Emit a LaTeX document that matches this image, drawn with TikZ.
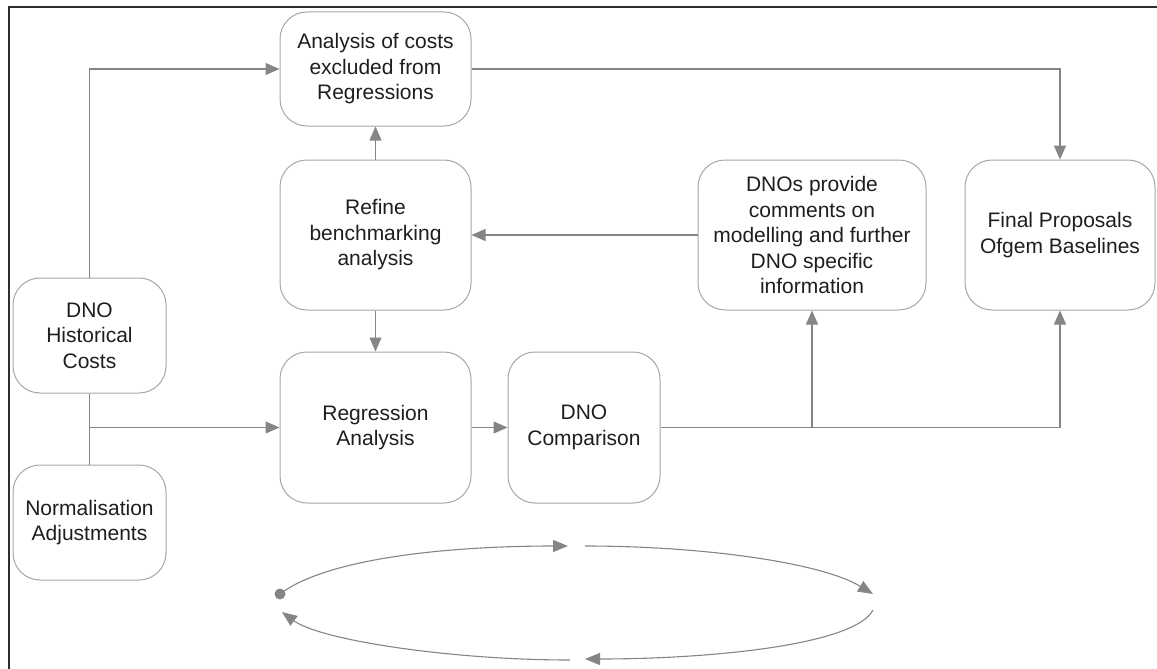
\documentclass[tikz,border=0pt]{standalone}
\usepackage{fontspec}
\setmainfont{Liberation Sans}
\usetikzlibrary{arrows.meta}
\definecolor{boxline}{HTML}{A6A6A6}
\definecolor{linkc}{HTML}{858585}
\definecolor{inkc}{HTML}{1E1E1E}
\definecolor{framec}{HTML}{2E2E2E}
\begin{document}
\begin{tikzpicture}[x=1pt,y=-1pt,
  box/.style={draw=boxline, line width=1pt, rounded corners=27pt, align=center,
    inner sep=0pt, text=inkc, font=\fontsize{21}{25.5}\selectfont},
  link/.style={draw=linkc, line width=1.3pt},
  arr/.style={link, -{Triangle[length=14pt,width=12pt]}, color=linkc},
  loop/.style={draw=linkc, line width=1.1pt, -{Triangle[length=15pt,width=12pt]}, color=linkc}]
\useasboundingbox (0,0) rectangle (1157,669);

% outer frame (top and left edges)
\draw[framec, line width=2pt] (1157,7) -- (9,7) -- (9,669);

% process boxes
\node[box, minimum width=191pt, minimum height=114pt] (anal) at (375.5,69)
  {Analysis of costs\\excluded from\\Regressions};
\node[box, minimum width=191pt, minimum height=150pt] (refine) at (375.5,235)
  {Refine\\benchmarking\\analysis};
\node[box, minimum width=191pt, minimum height=151pt] (regr) at (375.5,427.5)
  {Regression\\Analysis};
\node[box, minimum width=152pt, minimum height=151pt] (comp) at (584,427.5)
  {DNO\\Comparison};
\node[box, minimum width=228pt, minimum height=150pt] (dnos) at (812,235)
  {DNOs provide\\comments on\\modelling and further\\DNO specific\\information};
\node[box, minimum width=190pt, minimum height=150pt] (final) at (1060,235)
  {Final Proposals\\Ofgem Baselines};
\node[box, minimum width=153pt, minimum height=115pt] (hist) at (89.5,335.5)
  {DNO\\Historical\\Costs};
\node[box, minimum width=153pt, minimum height=115pt] (norm) at (89.5,522.5)
  {Normalisation\\Adjustments};

% junctions
\coordinate (jin) at (hist.south |- regr.west);
\coordinate (jdno) at (dnos.south |- comp.east);

% connectors
\draw[arr] (hist.north) |- (anal.west);
\draw[link] (hist.south) -- (norm.north);
\draw[arr] (jin) -- (regr.west);
\draw[arr] (refine.north) -- (anal.south);
\draw[arr] (refine.south) -- (regr.north);
\draw[arr] (regr.east) -- (comp.west);
\draw[arr] (dnos.west) -- (refine.east);
\draw[arr] (anal.east) -| (final.north);
\draw[arr] (comp.east) -| (final.south);
\draw[arr] (jdno) -- (dnos.south);

% cycle symbol below the flow
\coordinate (c0) at (280,594);
\coordinate (c1) at (568,546);
\coordinate (c2) at (585,546);
\coordinate (c3) at (873,594);
\coordinate (c4) at (873,610);
\coordinate (c5) at (585,659);
\coordinate (c6) at (570,660);
\coordinate (c7) at (282,612);
\fill[linkc] (c0) circle (5.5pt);
\draw[loop] (c0) .. controls (330,556) and (460,546) .. (c1);
\draw[loop] (c2) .. controls (700,546) and (820,562) .. (c3);
\draw[loop] (c4) .. controls (855,645) and (710,659) .. (c5);
\draw[loop] (c6) .. controls (450,660) and (320,640) .. (c7);
\end{tikzpicture}
\end{document}
